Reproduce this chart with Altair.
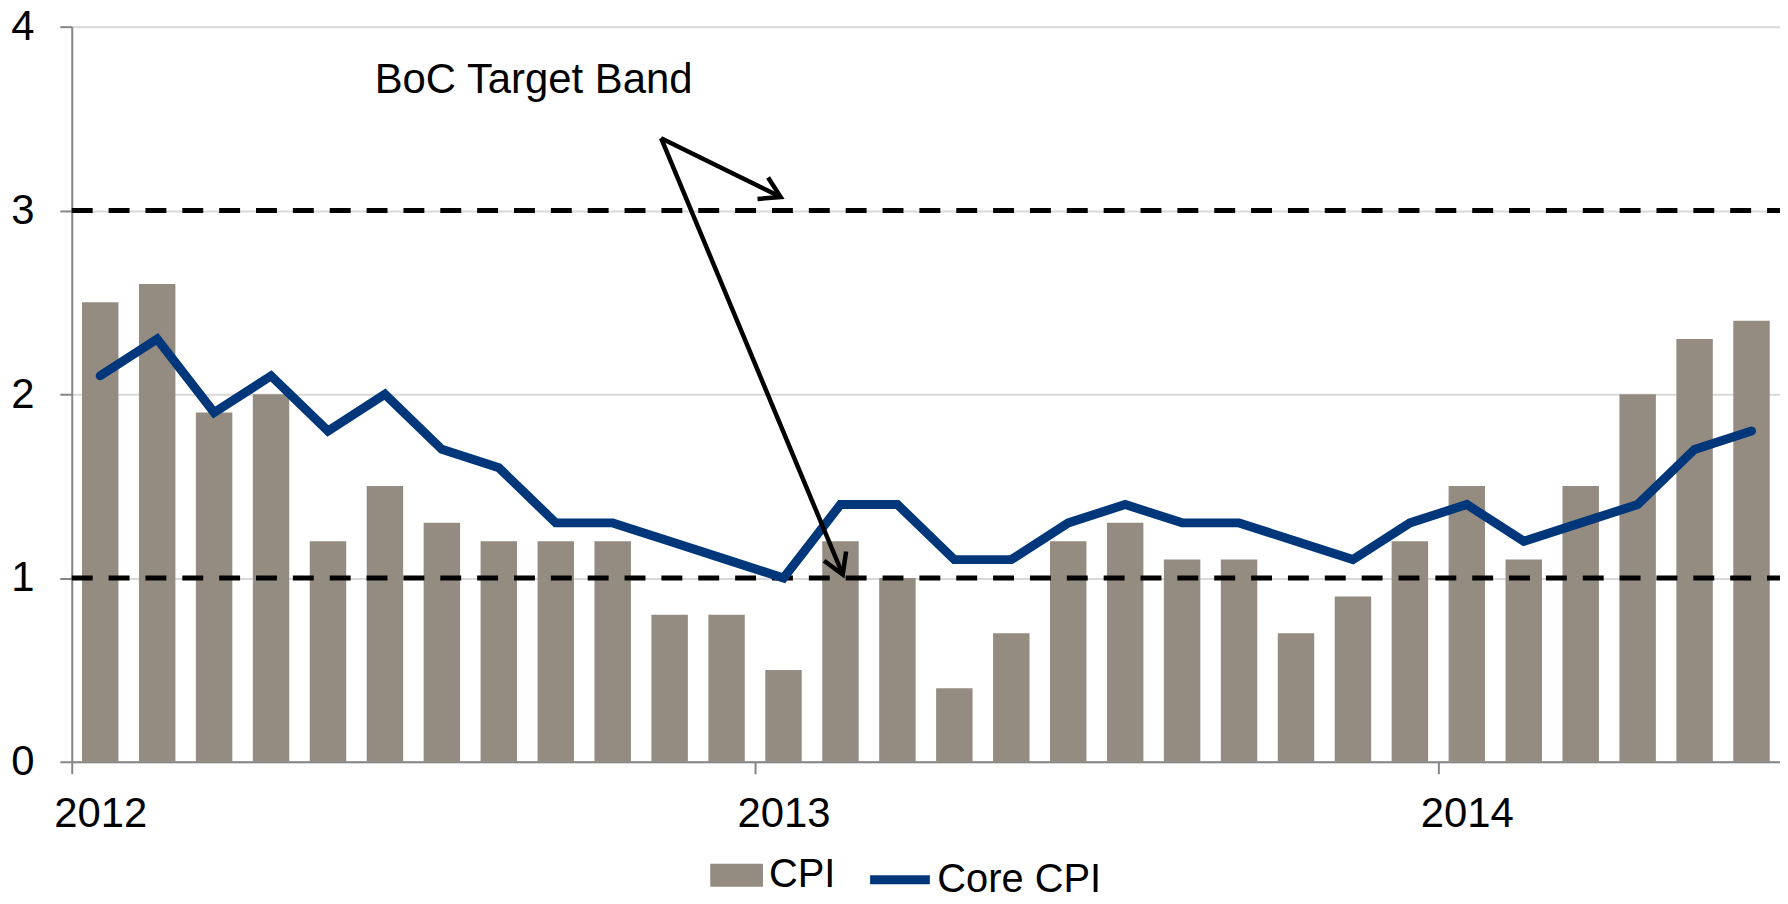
import math
import altair as alt
import pandas as pd

# ---- data ----
cpi = [2.5, 2.6, 1.9, 2.0, 1.2, 1.5, 1.3, 1.2, 1.2, 1.2, 0.8, 0.8,
       0.5, 1.2, 1.0, 0.4, 0.7, 1.2, 1.3, 1.1, 1.1, 0.7, 0.9, 1.2,
       1.5, 1.1, 1.5, 2.0, 2.3, 2.4]
core_cpi = [2.1, 2.3, 1.9, 2.1, 1.8, 2.0, 1.7, 1.6, 1.3, 1.3, 1.2, 1.1,
            1.0, 1.4, 1.4, 1.1, 1.1, 1.3, 1.4, 1.3, 1.3, 1.2, 1.1, 1.3,
            1.4, 1.2, 1.3, 1.4, 1.7, 1.8]
year_ticks = [0, 12, 24]          # month index of each January
year_labels = ["2012", "2013", "2014"]
target_band = [1, 3]
y_ticks = [0, 1, 2, 3, 4]

annot_text = ["BoC Target Band"]
annot_x = [8.11]
annot_y = [3.707]
arrow_x0 = [10.35, 10.35]
arrow_y0 = [3.393, 3.393]
arrow_x1 = [12.45, 13.54]
arrow_y1 = [3.073, 1.019]

# ---- styling ----
W, H = 1715, 738
N = len(cpi)
BAR = "#948c81"
NAVY = "#00377a"
GRAY = "#868686"
FONT = "Liberation Sans"
LEG_CENTER = 852   # legend row centre, px below the plot top
ARROW_W = 4.5

xs = alt.Scale(domain=[0, N], nice=False, zero=False)
ys = alt.Scale(domain=[0, 4], nice=False)

y_axis = alt.Axis(
    values=y_ticks, format="d", title=None, grid=True, gridColor="#d9d9d9",
    gridWidth=2, tickSize=12, tickColor=GRAY, tickWidth=2, domainColor=GRAY,
    domainWidth=2, labelFontSize=42, labelFont=FONT, labelColor="black",
    labelPadding=26)

bars_df = pd.DataFrame({
    "start": [i + 0.18 for i in range(N)],
    "end": [i + 0.82 for i in range(N)],
    "base": [0.0] * N,
    "cpi": cpi,
    "series": ["CPI"] * N,
})
line_df = pd.DataFrame({
    "mid": [i + 0.5 for i in range(N)],
    "core": core_cpi,
    "series": ["Core CPI"] * N,
})
band_df = pd.DataFrame({"v": target_band, "a": [0] * len(target_band), "b": [N] * len(target_band)})
text_df = pd.DataFrame({"x": annot_x, "y": annot_y, "t": annot_text})

px_x = W / N
px_y = H / 4.0
angles = []
for x0, y0, x1, y1 in zip(arrow_x0, arrow_y0, arrow_x1, arrow_y1):
    dx = (x1 - x0) * px_x
    dy = -(y1 - y0) * px_y
    angles.append(math.degrees(math.atan2(dy, dx)))
arrow_df = pd.DataFrame({"x0": arrow_x0, "y0": arrow_y0, "x1": arrow_x1,
                         "y1": arrow_y1, "ang": angles})

label_pos = [t + 0.5 for t in year_ticks]
label_expr = "[" + ",".join("'" + s + "'" for s in year_labels) + "][floor(datum.value/12)]"

bars = alt.Chart(bars_df).mark_bar(stroke=None).encode(
    x=alt.X("start:Q", scale=xs, axis=alt.Axis(
        values=year_ticks, labels=False, grid=False, title=None, orient="bottom",
        tickSize=12, tickColor=GRAY, tickWidth=2, domainColor=GRAY, domainWidth=2)),
    x2="end:Q",
    y=alt.Y("cpi:Q", scale=ys, axis=y_axis),
    y2="base:Q",
    color=alt.Color("series:N", scale=alt.Scale(domain=["CPI"], range=[BAR]),
                    legend=alt.Legend(title=None, orient="none", legendX=641,
                                      legendY=LEG_CENTER - 26.5,
                                      symbolType="M-1,-0.434H1V0.434H-1Z", symbolSize=2809,
                                      symbolStrokeWidth=0, labelFontSize=40, labelFont=FONT,
                                      labelColor="black", labelOffset=6, padding=0,
                                      labelLimit=400)),
)

bands = alt.Chart(band_df).mark_rule(color="black", strokeWidth=5, strokeDash=[21, 16]).encode(
    x=alt.X("a:Q", scale=xs, axis=None), x2="b:Q",
    y=alt.Y("v:Q", scale=ys, axis=y_axis),
)

line = alt.Chart(line_df).mark_line(strokeWidth=9, strokeCap="round", strokeJoin="miter").encode(
    x=alt.X("mid:Q", scale=xs, axis=None),
    y=alt.Y("core:Q", scale=ys, axis=y_axis),
    stroke=alt.Stroke("series:N", scale=alt.Scale(domain=["Core CPI"], range=[NAVY]),
                      legend=alt.Legend(title=None, orient="none", legendX=797,
                                        legendY=LEG_CENTER - 30,
                                        symbolType="stroke", symbolSize=3600,
                                        symbolStrokeWidth=9, labelFontSize=40, labelFont=FONT,
                                        labelColor="black", labelOffset=3, padding=0,
                                        labelLimit=400)),
)

arrows = alt.Chart(arrow_df).mark_rule(color="black", strokeWidth=ARROW_W).encode(
    x=alt.X("x0:Q", scale=xs, axis=None), y=alt.Y("y0:Q", scale=ys, axis=y_axis),
    x2="x1:Q", y2="y1:Q",
)

heads = alt.Chart(arrow_df).mark_point(
    shape="M-1,-0.6L0,0L-1,0.6", filled=False, color="black", size=1600,
    opacity=1, strokeWidth=ARROW_W, strokeJoin="miter").encode(
    x=alt.X("x1:Q", scale=xs, axis=None), y=alt.Y("y1:Q", scale=ys, axis=y_axis),
    angle=alt.Angle("ang:Q", scale=None),
)

label = alt.Chart(text_df).mark_text(fontSize=42, font=FONT, color="black",
                                     align="center", baseline="middle").encode(
    x=alt.X("x:Q", scale=xs, axis=alt.Axis(
        values=label_pos, labelExpr=label_expr, grid=False, title=None, orient="bottom",
        ticks=False, tickSize=0, domain=False, labelFontSize=42, labelFont=FONT,
        labelColor="black", labelPadding=32, labelFlush=False, labelOverlap=False,
        labelAlign="center")),
    y=alt.Y("y:Q", scale=ys, axis=y_axis), text="t:N",
)

chart = alt.layer(bars, bands, line, arrows, heads, label).resolve_legend(
    color="independent", stroke="independent"
).resolve_axis(x="independent").properties(
    width=W, height=H,
    autosize=alt.AutoSizeParams(type="none"),
    padding={"left": 64, "top": 17, "right": 0, "bottom": 133},
).configure_view(stroke=None).configure(font=FONT, background="white")

chart.save("out.html", embed_options={"renderer": "svg", "actions": False})
